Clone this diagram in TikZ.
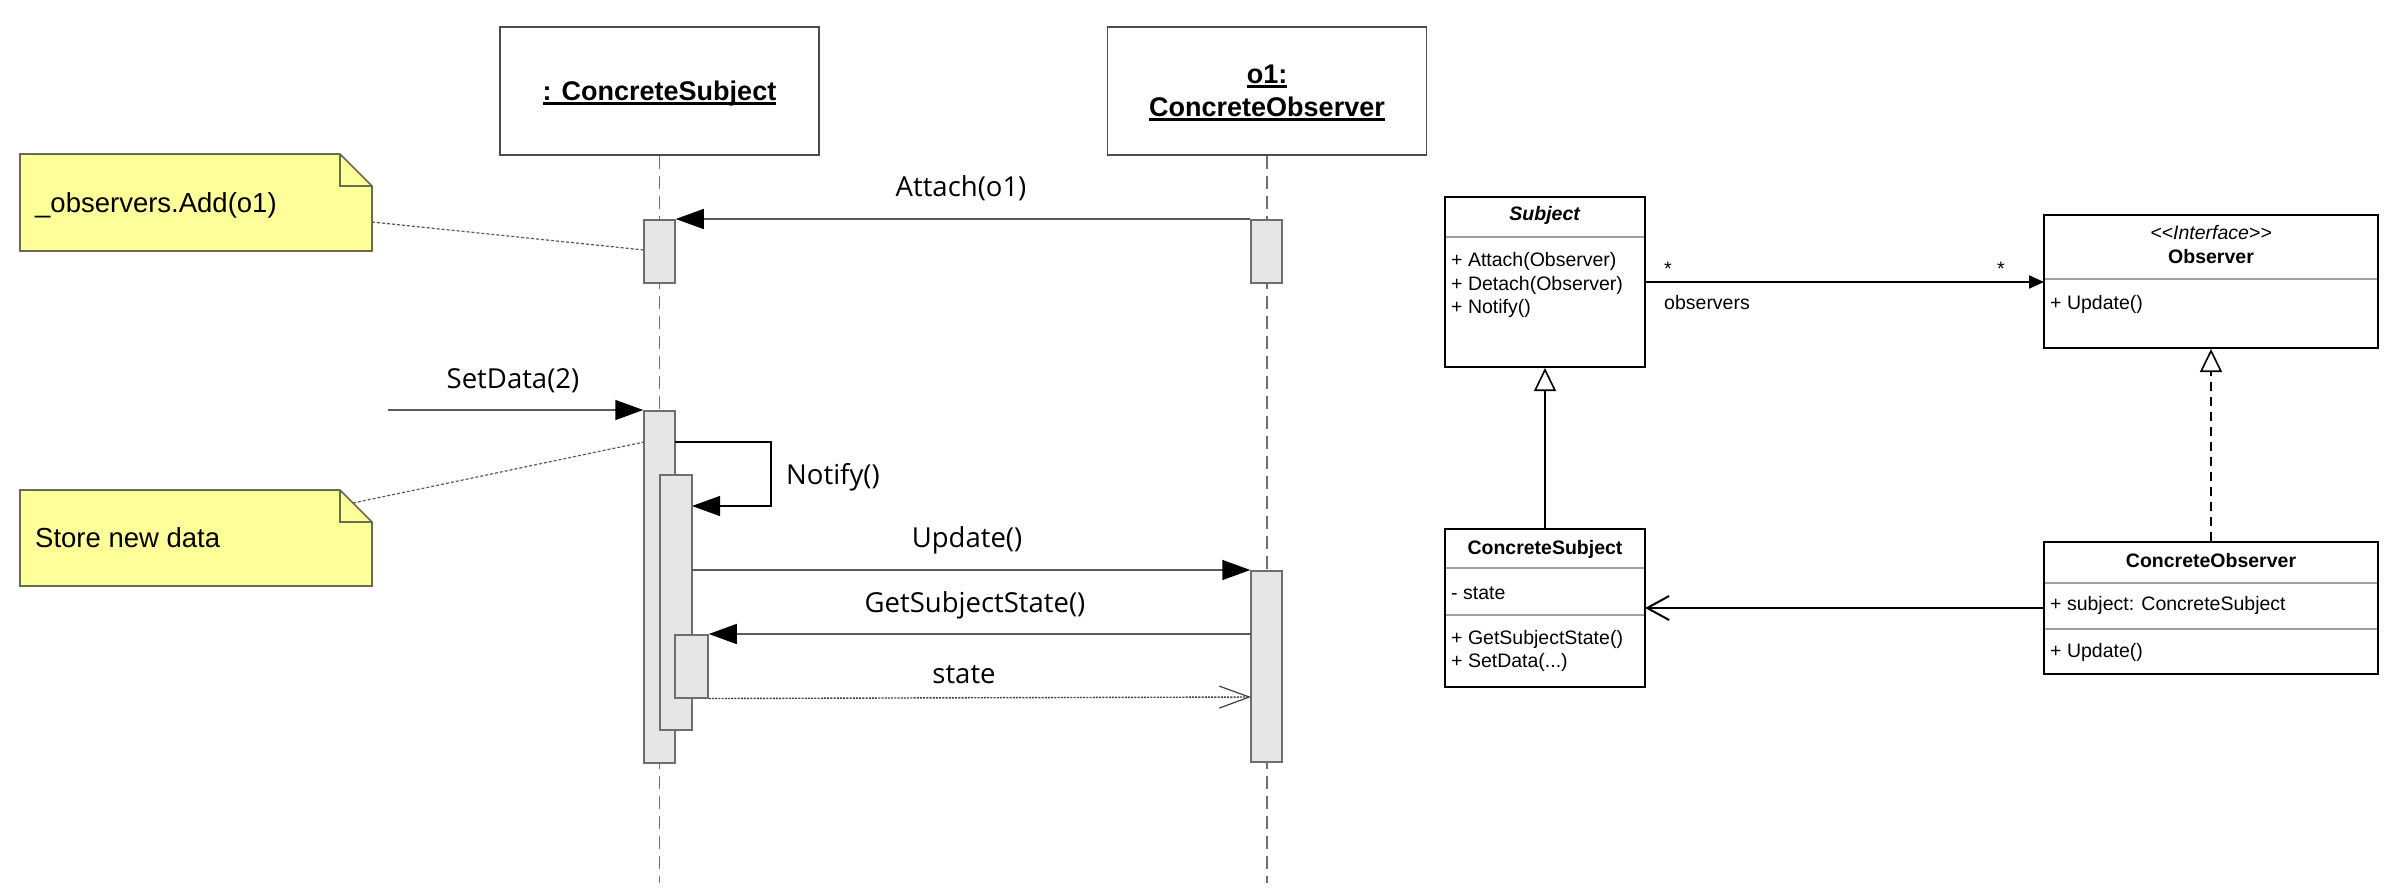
\documentclass[tikz,border=0pt]{standalone}
\usepackage{fontspec}
\setmainfont{Liberation Sans}
\newfontfamily\msgfamily{Open Sans}
\usetikzlibrary{arrows.meta}

\definecolor{notefill}{HTML}{FFFF99}
\definecolor{noteedge}{HTML}{6A6A55}
\definecolor{barfill}{HTML}{E6E6E6}
\definecolor{baredge}{HTML}{6E6E6E}
\definecolor{lifegray}{HTML}{707070}
\definecolor{msggray}{HTML}{5A5A5A}
\definecolor{sepgray}{HTML}{A0A0A0}

\newcommand\seqhead{\fontsize{27}{32}\selectfont\bfseries}
\newcommand\seqmsg{\msgfamily\fontsize{27.5}{32}\selectfont}
\newcommand\notetxt{\fontsize{27.5}{32}\selectfont}
\newcommand\clstxt{\fontsize{19.5}{24}\selectfont}

\begin{document}
\begin{tikzpicture}[x=1pt,y=-1pt,
  objbox/.style={draw=black!70, line width=1.6pt, fill=white, inner sep=0pt,
                 minimum width=319pt, minimum height=128pt},
  hdrtext/.style={inner sep=0pt, anchor=base, font=\seqhead},
  lifeline/.style={draw=lifegray, line width=1.4pt, dash pattern=on 13pt off 7pt},
  actbar/.style={draw=baredge, fill=barfill, line width=1.5pt, inner sep=0pt, anchor=north},
  msg/.style={draw=msggray, line width=1.6pt, -{Triangle[length=28pt,width=20pt,color=black]}},
  selfmsg/.style={draw=black, line width=1.3pt, -{Triangle[length=28pt,width=20pt,color=black]}},
  retmsg/.style={draw=black!75, line width=1.4pt, dash pattern=on 2pt off 1.2pt,
                 -{Straight Barb[length=30pt,width=22pt,line width=1.2pt]}},
  msglabel/.style={inner sep=0pt, anchor=base, font=\seqmsg},
  note/.style={draw=noteedge, fill=notefill, line width=1.6pt, line join=miter},
  notefold/.style={draw=noteedge, line width=1.6pt},
  notetext/.style={inner sep=0pt, anchor=base west, font=\notetxt},
  notelink/.style={draw=msggray, line width=1.2pt, dash pattern=on 3pt off 2pt},
  clsbox/.style={draw=black, line width=2pt, fill=white, inner sep=0pt},
  sep/.style={draw=sepgray, line width=2pt},
  clsline/.style={inner sep=0pt, anchor=base west, font=\clstxt},
  clstitle/.style={inner sep=0pt, anchor=base, font=\clstxt\bfseries},
  genarrow/.style={draw=black, line width=1.6pt, -{Triangle[open,length=23pt,width=22pt,fill=white]}},
  realarrow/.style={draw=black, line width=1.6pt, dash pattern=on 9pt off 6pt,
                    -{Triangle[open,length=23pt,width=22pt,fill=white]}},
  assocarrow/.style={draw=black, line width=2pt, -{Triangle[length=15pt,width=13pt]}},
  navarrow/.style={draw=black, line width=2pt, -{Straight Barb[length=22pt,width=24pt,line width=2pt]}}
]
\useasboundingbox (0,0) rectangle (2405,887);

% ---------------- sequence diagram: lifeline heads ----------------
\node[objbox] (cs) at (659.5,91) {};
\node[objbox] (co) at (1267,91) {};
\node[hdrtext] (csName) at (659.5,100) {: ConcreteSubject};
\node[hdrtext] (coName1) at (1267,83) {o1:};
\node[hdrtext] (coName2) at (1267,116) {ConcreteObserver};
\foreach \t in {csName,coName1,coName2}
  \draw[line width=2.6pt] ([yshift=-3.5pt]\t.base west) -- ([yshift=-3.5pt]\t.base east);

% lifelines
\coordinate (csEnd) at (659.5,883);
\coordinate (coEnd) at (1267,883);
\draw[lifeline] (cs.south) -- (csEnd);
\draw[lifeline] (co.south) -- (coEnd);

% activation bars
\node[actbar, minimum width=31pt, minimum height=63pt]  (a1) at (659.5,219) {};
\node[actbar, minimum width=31pt, minimum height=63pt]  (b1) at (1266.5,219) {};
\node[actbar, minimum width=31pt, minimum height=352pt] (a2) at (659.5,410) {};
\node[actbar, minimum width=32pt, minimum height=255pt] (a3) at (676,474) {};
\node[actbar, minimum width=33pt, minimum height=63pt]  (a4) at (691.5,634) {};
\node[actbar, minimum width=31pt, minimum height=191pt] (b2) at (1266.5,570) {};

% messages
\draw[msg] (b1.north west) -- (a1.north east);
\node[msglabel] (lAttach) at (961,196) {Attach(o1)};

\coordinate (found) at (388,410);
\draw[msg] (found) -- (a2.north west);
\node[msglabel] (lSet) at (513,388) {SetData(2)};

\coordinate (selfOut) at (675,442);
\coordinate (selfIn) at (692,506);
\draw[selfmsg] (selfOut) -- (771,442) -- (771,506) -- (selfIn);
\node[msglabel, anchor=base west] (lNotify) at (786,484) {Notify()};

\coordinate (updOut) at (692,570);
\draw[msg] (updOut) -- (b2.north west);
\node[msglabel] (lUpd) at (967,547) {Update()};

\coordinate (getOut) at (1251,634);
\draw[msg] (getOut) -- (a4.north east);
\node[msglabel] (lGet) at (975,612) {GetSubjectState()};

\coordinate (stateIn) at (1251,697);
\draw[retmsg] (a4.south east) -- (stateIn);
\node[msglabel] (lState) at (964,683) {state};

% notes
\draw[note] (20,154) -- (340,154) -- (372,186) -- (372,251) -- (20,251) -- cycle;
\draw[notefold] (340,154) -- (340,186) -- (372,186);
\node[notetext] (note1) at (35,212) {\_observers.Add(o1)};
\coordinate (note1link) at (372,222);
\coordinate (a1link) at (644,250);
\draw[notelink] (note1link) -- (a1link);

\draw[note] (20,490) -- (340,490) -- (372,522) -- (372,586) -- (20,586) -- cycle;
\draw[notefold] (340,490) -- (340,522) -- (372,522);
\node[notetext] (note2) at (35,547) {Store new data};
\coordinate (note2link) at (353,503);
\coordinate (a2link) at (644,442);
\draw[notelink] (note2link) -- (a2link);

% ---------------- class diagram ----------------
% Subject
\node[clsbox, minimum width=200pt, minimum height=170pt] (subj) at (1545,282) {};
\draw[sep] (1446,237) -- (1644,237);
\node[clstitle] (subjT) at (1545,220) {\textit{Subject}};
\node[clsline] (subjM1) at (1451,266) {+ Attach(Observer)};
\node[clsline] (subjM2) at (1451,290) {+ Detach(Observer)};
\node[clsline] (subjM3) at (1451,313) {+ Notify()};

% Observer interface
\node[clsbox, minimum width=334pt, minimum height=133pt] (obs) at (2211,281.5) {};
\draw[sep] (2045,279) -- (2377,279);
\node[inner sep=0pt, anchor=base, font=\clstxt\itshape] (obsS) at (2211,239) {<{}<Interface>{}>};
\node[clstitle] (obsT) at (2211,263) {Observer};
\node[clsline] (obsM1) at (2050,309) {+ Update()};

% ConcreteSubject
\node[clsbox, minimum width=200pt, minimum height=158pt] (csub) at (1545,608) {};
\draw[sep] (1446,568) -- (1644,568);
\draw[sep] (1446,615) -- (1644,615);
\node[clstitle] (csubT) at (1545,554) {ConcreteSubject};
\node[clsline] (csubA1) at (1451,599) {- state};
\node[clsline] (csubM1) at (1451,644) {+ GetSubjectState()};
\node[clsline] (csubM2) at (1451,667) {+ SetData(...)};

% ConcreteObserver
\node[clsbox, minimum width=334pt, minimum height=132pt] (cobs) at (2211,608) {};
\draw[sep] (2045,583) -- (2377,583);
\draw[sep] (2045,629) -- (2377,629);
\node[clstitle] (cobsT) at (2211,567) {ConcreteObserver};
\node[clsline] (cobsA1) at (2050,610) {+ subject: ConcreteSubject};
\node[clsline] (cobsM1) at (2050,657) {+ Update()};

% relations
\coordinate (assocFrom) at (1645,282);
\coordinate (assocTo) at (2044,282);
\draw[assocarrow] (assocFrom) -- (assocTo);
\node[inner sep=0pt, anchor=base, font=\clstxt] (mulA) at (1668,275) {*};
\node[inner sep=0pt, anchor=base, font=\clstxt] (mulB) at (2001,275) {*};
\node[clsline] (role) at (1664,309) {observers};

\draw[genarrow] (csub.north) -- (subj.south);
\draw[realarrow] (cobs.north) -- (obs.south);

\coordinate (navFrom) at (2044,608);
\coordinate (navTo) at (1645,608);
\draw[navarrow] (navFrom) -- (navTo);
\end{tikzpicture}
\end{document}
